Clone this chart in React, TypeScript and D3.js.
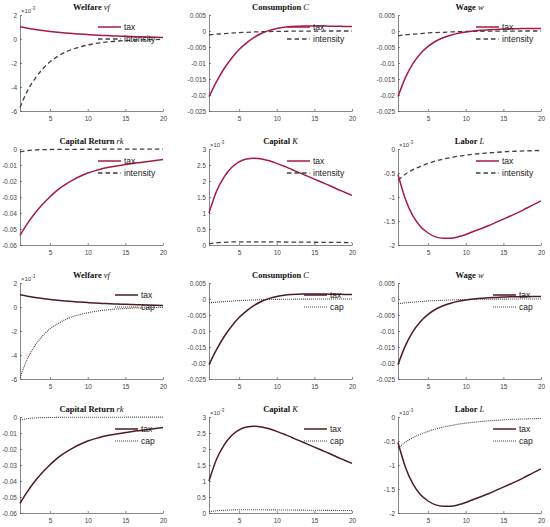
import React, { useEffect, useRef } from 'react';
import * as d3 from 'd3';

const periods = d3.range(1, 21);
const xTicks = [5, 10, 15, 20];

// welfare, capital and labor series are in units of 10^-3
const welfareTax = [1.02, 0.9, 0.8, 0.71, 0.63, 0.56, 0.5, 0.45, 0.41, 0.37, 0.33, 0.3, 0.27, 0.25, 0.22, 0.2, 0.18, 0.16, 0.14, 0.12];
const welfareIntensity = [-5.7, -4.3, -3.3, -2.5, -1.9, -1.45, -1.1, -0.85, -0.65, -0.5, -0.38, -0.29, -0.22, -0.17, -0.13, -0.1, -0.08, -0.06, -0.045, -0.035];
const welfareCap = [-5.9, -4.3, -3.2, -2.4, -1.8, -1.4, -1.05, -0.8, -0.62, -0.48, -0.37, -0.28, -0.21, -0.16, -0.12, -0.09, -0.07, -0.055, -0.04, -0.03];

const consTax = [-0.0205, -0.0158, -0.0118, -0.0085, -0.0058, -0.0037, -0.002, -0.0007, 0.0002, 0.0008, 0.0012, 0.0014, 0.0015, 0.0016, 0.0016, 0.0016, 0.0015, 0.0015, 0.0014, 0.0014];
const consIntensity = [-0.0012, -0.001, -0.0008, -0.00065, -0.0005, -0.0004, -0.0003, -0.00022, -0.00016, -0.00012, -0.00009, -0.00006, -0.00004, -0.00003, -0.00002, -0.00001, 0, 0, 0, 0];

const wageTax = [-0.0205, -0.0145, -0.0101, -0.007, -0.0048, -0.0032, -0.0021, -0.0013, -0.0007, -0.0003, 0, 0.0002, 0.0004, 0.0005, 0.0006, 0.0007, 0.0007, 0.0008, 0.0008, 0.0008];
const wageIntensity = [-0.0015, -0.0012, -0.001, -0.0008, -0.0006, -0.0005, -0.0004, -0.0003, -0.0002, -0.00015, -0.0001, -0.00008, -0.00006, -0.00004, -0.00003, -0.00002, -0.00001, 0, 0, 0];

const rkTax = [-0.054, -0.0465, -0.04, -0.0345, -0.0298, -0.0255, -0.0222, -0.0194, -0.017, -0.015, -0.0135, -0.0122, -0.0112, -0.0104, -0.0097, -0.009, -0.0084, -0.0078, -0.0072, -0.0066];
const rkIntensity = [-0.0018, -0.001, -0.0006, -0.0004, -0.0003, -0.00025, -0.0002, -0.0002, -0.00018, -0.00016, -0.00015, -0.00014, -0.00013, -0.00012, -0.00011, -0.0001, -0.0001, -0.00009, -0.00009, -0.00008];

const capitalTax = [1.0, 1.68, 2.12, 2.42, 2.6, 2.69, 2.71, 2.69, 2.63, 2.55, 2.46, 2.36, 2.26, 2.16, 2.06, 1.96, 1.86, 1.75, 1.65, 1.55];
const capitalIntensity = [0.04, 0.07, 0.085, 0.095, 0.1, 0.1, 0.1, 0.1, 0.098, 0.096, 0.094, 0.092, 0.09, 0.088, 0.086, 0.084, 0.082, 0.08, 0.078, 0.076];

const laborTax = [-0.53, -1.05, -1.4, -1.62, -1.75, -1.83, -1.86, -1.86, -1.83, -1.78, -1.72, -1.66, -1.6, -1.53, -1.46, -1.39, -1.32, -1.24, -1.16, -1.08];
const laborIntensity = [-0.65, -0.52, -0.43, -0.36, -0.3, -0.25, -0.21, -0.18, -0.15, -0.13, -0.11, -0.095, -0.08, -0.07, -0.06, -0.05, -0.045, -0.04, -0.035, -0.03];

const welfareTicks = [-6, -4, -2, 0, 2];
const smallTicks = [-0.025, -0.02, -0.015, -0.01, -0.005, 0, 0.005];
const rkTicks = [-0.06, -0.05, -0.04, -0.03, -0.02, -0.01, 0];
const capitalTicks = [0, 0.5, 1, 1.5, 2, 2.5, 3];
const laborTicks = [-2, -1.5, -1, -0.5, 0];

interface Panel {
  title: string;
  symbol: string;
  tax: number[];
  other: number[];
  ticks: number[];
  scaled: boolean;
}

const topPanels: Panel[] = [
  { title: 'Welfare ', symbol: 'vf', tax: welfareTax, other: welfareIntensity, ticks: welfareTicks, scaled: true },
  { title: 'Consumption ', symbol: 'C', tax: consTax, other: consIntensity, ticks: smallTicks, scaled: false },
  { title: 'Wage ', symbol: 'w', tax: wageTax, other: wageIntensity, ticks: smallTicks, scaled: false },
  { title: 'Capital Return ', symbol: 'rk', tax: rkTax, other: rkIntensity, ticks: rkTicks, scaled: false },
  { title: 'Capital ', symbol: 'K', tax: capitalTax, other: capitalIntensity, ticks: capitalTicks, scaled: true },
  { title: 'Labor ', symbol: 'L', tax: laborTax, other: laborIntensity, ticks: laborTicks, scaled: true },
];

const bottomPanels: Panel[] = topPanels.map((p, i) => (i === 0 ? { ...p, other: welfareCap } : p));

const colLeft = [20, 209, 398];
const rowTop = [15, 149, 283, 417];
const plotW = 143;
const plotH = 96;

export default function App() {
  const ref = useRef<SVGSVGElement>(null);

  useEffect(() => {
    if (!ref.current) return;
    const svg = d3.select(ref.current);
    svg.selectAll('*').remove();

    const x = d3.scaleLinear().domain([1, 20]).range([0, plotW]);

    const groups = [
      { panels: topPanels, rowOffset: 0, taxColor: '#a61c40', otherName: 'intensity', dash: '4.5,3', otherW: 1.3, legendX: 78 },
      { panels: bottomPanels, rowOffset: 2, taxColor: '#4d1c24', otherName: 'cap', dash: '1,1', otherW: 1.1, legendX: 95 },
    ];

    groups.forEach(grp => {
      grp.panels.forEach((p, i) => {
        const row = grp.rowOffset + Math.floor(i / 3);
        const col = i % 3;
        const g = svg.append('g').attr('transform', `translate(${colLeft[col]},${rowTop[row]})`);

        const y = d3.scaleLinear()
          .domain([p.ticks[0], p.ticks[p.ticks.length - 1]])
          .range([plotH, 0]);

        const yAxis = d3.axisLeft(y).tickValues(p.ticks).tickSizeInner(-2).tickSizeOuter(0).tickPadding(3)
          .tickFormat(d => String(d));
        const xAxis = d3.axisBottom(x).tickValues(xTicks).tickSizeInner(-2).tickSizeOuter(0).tickPadding(5);

        const ya = g.append('g').call(yAxis);
        const xa = g.append('g').attr('transform', `translate(0,${plotH})`).call(xAxis);
        [ya, xa].forEach(a => {
          a.selectAll('path, line').attr('stroke', '#555').attr('stroke-width', 0.7);
          a.selectAll('text')
            .style('font-family', 'Liberation Sans, Arial, sans-serif')
            .style('font-size', '6.5px')
            .attr('fill', '#444');
        });

        if (p.scaled) {
          const e = g.append('text')
            .attr('x', 1).attr('y', -2)
            .style('font-family', 'Liberation Sans, Arial, sans-serif')
            .style('font-size', '6px')
            .attr('fill', '#444')
            .text('×10');
          e.append('tspan').attr('dy', -3).style('font-size', '4.5px').text('-3');
        }

        const title = g.append('text')
          .attr('x', plotW / 2).attr('y', -5)
          .attr('text-anchor', 'middle')
          .style('font-family', 'Liberation Serif, Times New Roman, serif')
          .style('font-size', '8.5px')
          .style('font-weight', 'bold')
          .attr('fill', '#111')
          .text(p.title);
        title.append('tspan').style('font-style', 'italic').style('font-weight', 'normal').text(p.symbol);

        const line = d3.line<number>()
          .x((_, k) => x(periods[k]))
          .y(d => y(d))
          .curve(d3.curveMonotoneX);

        g.append('path').datum(p.other)
          .attr('fill', 'none').attr('stroke', '#404040')
          .attr('stroke-width', grp.otherW).attr('stroke-dasharray', grp.dash)
          .attr('d', line);
        g.append('path').datum(p.tax)
          .attr('fill', 'none').attr('stroke', grp.taxColor)
          .attr('stroke-width', 1.5)
          .attr('d', line);

        const lx = grp.legendX;
        const items = [
          { name: 'tax', color: grp.taxColor, dash: null as string | null, w: 1.5 },
          { name: grp.otherName, color: '#404040', dash: grp.dash, w: grp.otherW },
        ];
        items.forEach((it, k) => {
          const ly = 12 + k * 12;
          g.append('line')
            .attr('x1', lx).attr('x2', lx + 23).attr('y1', ly).attr('y2', ly)
            .attr('stroke', it.color).attr('stroke-width', it.w)
            .attr('stroke-dasharray', it.dash);
          g.append('text')
            .attr('x', lx + 26).attr('y', ly + 3)
            .style('font-family', 'Liberation Sans, Arial, sans-serif')
            .style('font-size', '8.5px')
            .attr('fill', '#222')
            .text(it.name);
        });
      });
    });
  }, []);

  return (
    <div style={{ position: 'absolute', left: 0, top: 0, width: 550, height: 527, background: '#fff' }}>
      <svg ref={ref} width={550} height={527} />
    </div>
  );
}
